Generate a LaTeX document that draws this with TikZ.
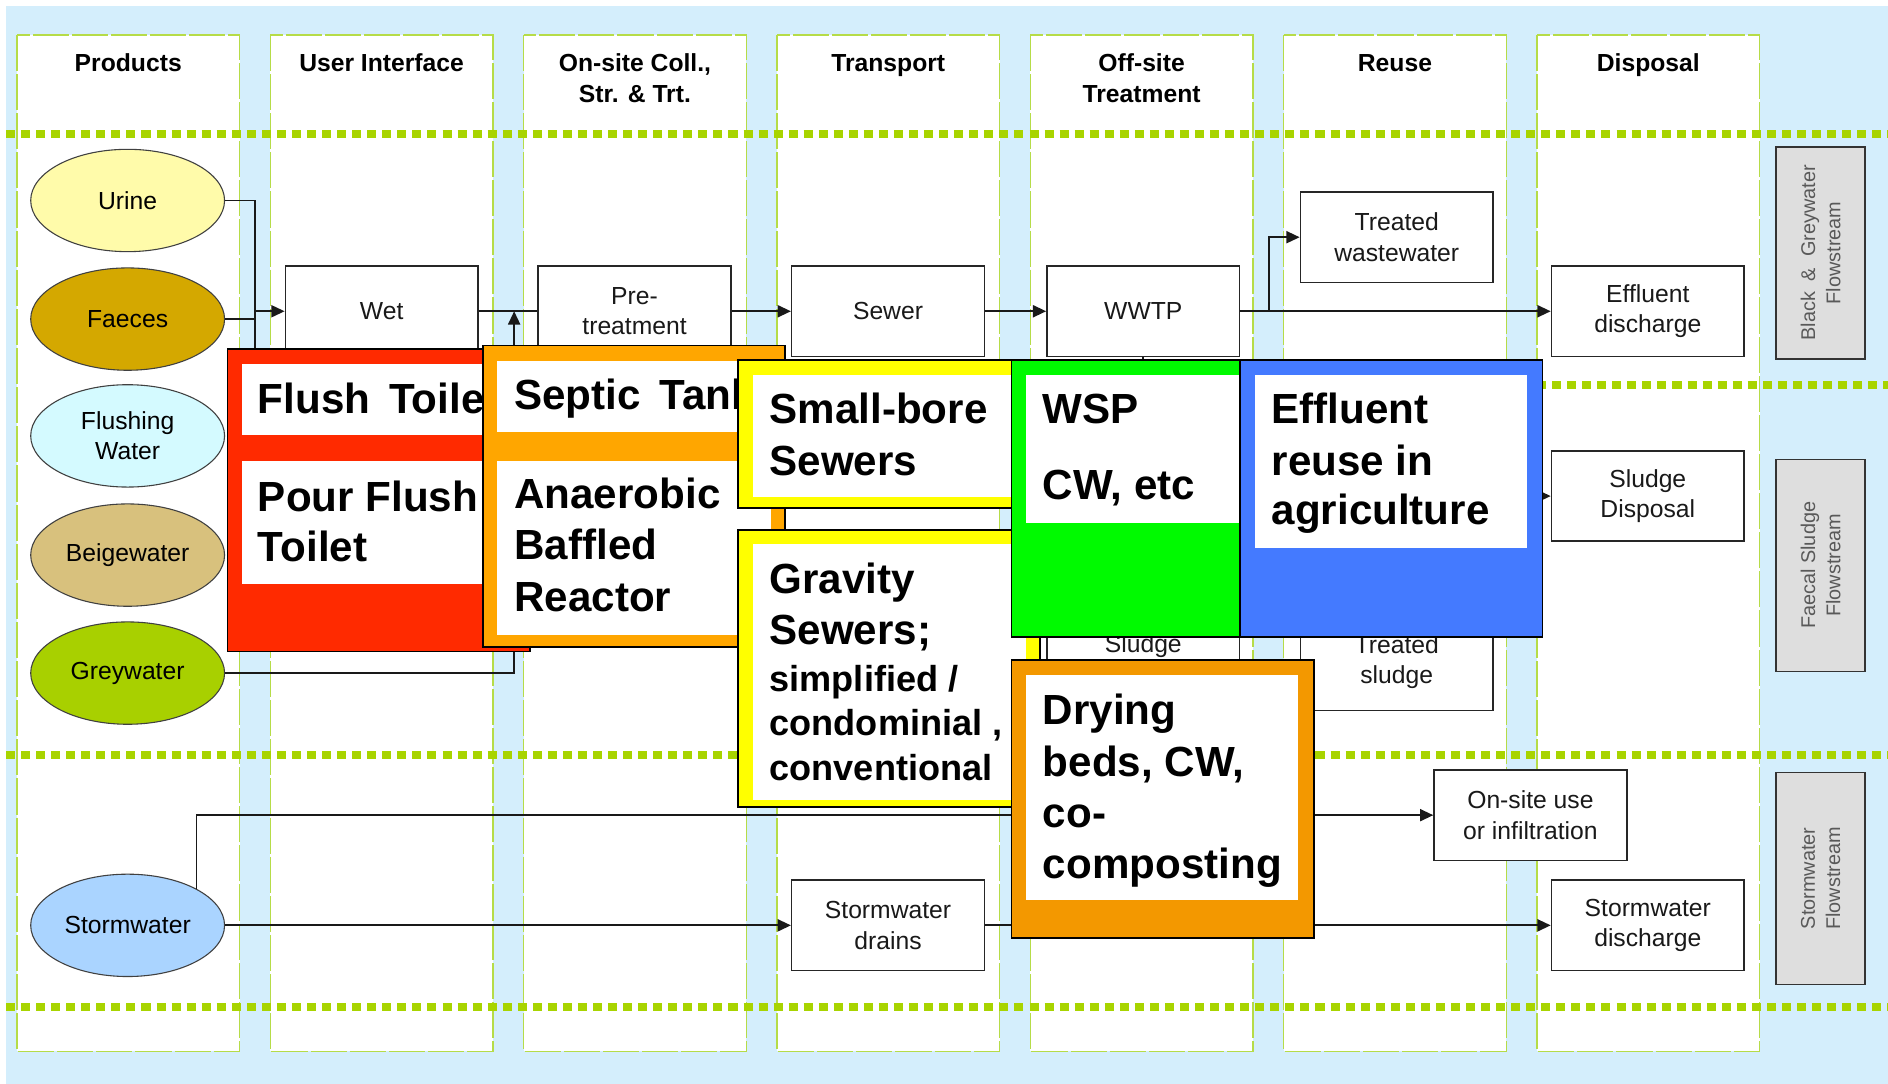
\documentclass[tikz,border=0pt]{standalone}
\usepackage{fontspec}
\setmainfont{Liberation Sans}
\usetikzlibrary{arrows.meta,shapes.geometric}
\definecolor{bgblue}{RGB}{212,238,252}
\definecolor{grn}{RGB}{168,212,0}
\definecolor{colgrn}{RGB}{182,220,72}
\definecolor{urine}{RGB}{255,251,170}
\definecolor{faeces}{RGB}{212,168,0}
\definecolor{flushw}{RGB}{212,250,255}
\definecolor{beige}{RGB}{216,193,125}
\definecolor{greyw}{RGB}{168,208,0}
\definecolor{stormw}{RGB}{170,212,255}
\definecolor{cred}{RGB}{255,42,0}
\definecolor{corange}{RGB}{255,166,0}
\definecolor{cyellow}{RGB}{255,255,0}
\definecolor{cgreen}{RGB}{0,250,0}
\definecolor{cblue}{RGB}{68,122,255}
\definecolor{corangeb}{RGB}{243,152,0}
\definecolor{lblgray}{RGB}{222,222,222}
\begin{document}
\begin{tikzpicture}[x=1pt,y=-1pt,
  colbox/.style={fill=white,draw=colgrn,line width=1.1pt,dash pattern=on 30pt off 2.5pt},
  dotln/.style={draw=grn,line width=6.5pt,dash pattern=on 7.5pt off 5pt},
  hdr/.style={font=\fontsize{20.5}{26}\selectfont\bfseries,anchor=base,inner sep=0},
  prod/.style={ellipse,draw=black!75,line width=0.9pt,minimum width=161pt,minimum height=85pt,inner sep=0,align=center,font=\fontsize{20.5}{25}\selectfont},
  pbox/.style={draw=black!85,line width=1.3pt,fill=white,minimum width=160pt,minimum height=75pt,inner sep=0,align=center,text=black!90,font=\fontsize{20.5}{25.5}\selectfont},
  flowlbl/.style={fill=lblgray,draw=black!80,line width=1.3pt,rotate=90,minimum width=176pt,minimum height=74pt,inner sep=0,align=center,text=black!65,font=\fontsize{16.5}{21}\selectfont},
  conn/.style={line width=1.5pt,draw=black!90},
  arr/.style={conn,-{Triangle[length=11pt,width=10pt]}},
  big/.style={anchor=base west,inner sep=0,font=\fontsize{35}{43}\selectfont\bfseries},
  mid/.style={anchor=base west,inner sep=0,font=\fontsize{30}{37}\selectfont\bfseries},
  panel/.style={draw=black,line width=1.5pt},
]
\useasboundingbox (0,0) rectangle (1568,900);
\fill[bgblue] (5,5) rectangle (1568,900);

% columns
\foreach \i in {0,...,6}{
  \path[colbox] ({14+210.4*\i},29) rectangle ++(185,844);
}
% headers
\node[hdr] (h1) at (106.5,59) {Products};
\node[hdr] (h2) at (316.9,59) {User Interface};
\node[hdr] (h3a) at (527.3,59) {On-site Coll.,};
\node[hdr] (h3b) at (527.3,85) {Str. \& Trt.};
\node[hdr] (h4) at (737.7,59) {Transport};
\node[hdr] (h5a) at (948.1,59) {Off-site};
\node[hdr] (h5b) at (948.1,85) {Treatment};
\node[hdr] (h6) at (1158.5,59) {Reuse};
\node[hdr] (h7) at (1368.9,59) {Disposal};

% dotted separators
\draw[dotln] (5,111) -- (1568,111);
\draw[dotln] (189,320) -- (1568,320);
\draw[dotln] (5,627) -- (1568,627);
\draw[dotln] (5,836.5) -- (1568,836.5);

% flowstream labels
\node[flowlbl] (fl1) at (1512,210) {Black~~\&~~Greywater\\Flowstream};
\node[flowlbl] (fl2) at (1512,469.5) {Faecal Sludge\\Flowstream};
\node[flowlbl] (fl3) at (1512,729.5) {Stormwater\\Flowstream};

% products
\node[prod,fill=urine] (urine) at (106,166.5) {Urine};
\node[prod,fill=faeces] (faeces) at (106,265) {Faeces};
\node[prod,fill=flushw] (flush) at (106,362) {Flushing\\Water};
\node[prod,fill=beige] (beige) at (106,461) {Beigewater};
\node[prod,fill=greyw] (grey) at (106,559) {Greywater};
\node[prod,fill=stormw] (storm) at (106,768.5) {Stormwater};

% boxes
\node[pbox] (wet) at (317,258.5) {Wet};
\node[pbox] (pre) at (527,258.5) {Pre-\\treatment};
\node[pbox] (sewer) at (737.5,258.5) {Sewer};
\node[pbox] (wwtp) at (949.5,258.5) {WWTP};
\node[pbox] (tww) at (1160,197) {Treated\\wastewater};
\node[pbox] (effl) at (1368.5,258.5) {Effluent\\discharge};
\node[pbox] (sdisp) at (1368.5,412) {Sludge\\Disposal};
\node[pbox] (sludge) at (949.5,510.5) {};
\node[anchor=base,inner sep=0,text=black!90,font=\fontsize{20.5}{25.5}\selectfont] (sludgetxt) at (949.5,541.5) {Sludge};
\node[pbox,minimum height=80pt] (tsl) at (1160,550) {Treated\\sludge};
\node[pbox] (onsite) at (1271,677) {On-site use\\or infiltration};
\node[pbox] (drains) at (737.5,768.5) {Stormwater\\drains};
\node[pbox] (sdis) at (1368.5,768.5) {Stormwater\\discharge};

% connectors
\coordinate (bus) at (212,300);
\coordinate (jn) at (427,258.5);
\coordinate (br) at (1054,258.5);
\draw[conn] (urine.east) -| (bus);
\draw[conn] (faeces.east) -- (faeces.east -| bus);
\draw[arr] (bus |- wet.west) -- (wet.west);
\draw[conn] (wet.east) -- (pre.west);
\draw[arr] (grey.east) -| (jn);
\draw[arr] (pre.east) -- (sewer.west);
\draw[arr] (sewer.east) -- (wwtp.west);
\draw[arr] (wwtp.east) -- (effl.west);
\draw[arr] (br) |- (tww.west);
\draw[conn] (wwtp.south) -- (sludge.north);
\draw[arr] (sludge.east) -- ++(230,0) |- (sdisp.west);
\draw[arr] (storm.east) -- (drains.west);
\draw[arr] (drains.east) -- (sdis.west);
\draw[arr] (storm.north east) |- (onsite.west);

% red panel
\draw[panel,fill=cred] (189,290) rectangle (440,541);
\fill[white] (201,302) rectangle (428,361);
\fill[white] (201,383) rectangle (428,485);
\node[big] (t1) at (214,343) {Flush\kern6pt\ Toilet};
\node[big] (t2) at (214,424.5) {Pour Flush};
\node[big] (t3) at (214,466.5) {Toilet};

% orange panel
\draw[panel,fill=corange] (401,287) rectangle (652,537);
\fill[white] (413,300) rectangle (640,358.5);
\fill[white] (413,383) rectangle (640,527);
\node[big] (t4) at (427,340.5) {Septic\kern6pt\ Tank};
\node[big] (t5) at (427,422) {Anaerobic};
\node[big] (t6) at (427,465) {Baffled};
\node[big] (t7) at (427,508) {Reactor};

% yellow panels
\draw[panel,fill=cyellow] (613,299) rectangle (864,422);
\fill[white] (625.5,311.5) rectangle (852,412.5);
\node[big] (t8) at (639,351.5) {Small-bore};
\node[big] (t9) at (639,394.5) {Sewers};

\draw[panel,fill=cyellow] (613,440) rectangle (864,670.5);
\fill[white] (625.5,452) rectangle (852,664.5);
\node[big] (t10) at (639,492.5) {Gravity};
\node[big] (t11) at (639,535.5) {Sewers;};
\node[mid] (t12) at (639,574) {simplified /};
\node[mid] (t13) at (639,611) {condominial ,};
\node[mid] (t14) at (639,648) {conventional};

% green panel
\draw[panel,fill=cgreen] (840,299) rectangle (1030,529);
\fill[white] (852,311.5) rectangle (1029,434);
\node[big] (t15) at (866,351.5) {WSP};
\node[big] (t16) at (866,415) {CW, etc};

% blue panel
\draw[panel,fill=cblue] (1030,299) rectangle (1281,529);
\fill[white] (1042,311.5) rectangle (1268,455);
\node[big] (t17) at (1056,351.5) {Effluent};
\node[big] (t18) at (1056,394.5) {reuse in};
\node[big] (t19) at (1056,436) {agriculture};

% orange panel 2
\draw[panel,fill=corangeb] (840,548) rectangle (1091,779);
\fill[white] (852,560.5) rectangle (1078,747.5);
\node[big] (t20) at (866,602) {Drying};
\node[big] (t21) at (866,644.5) {beds, CW,};
\node[big] (t22) at (866,687) {co-};
\node[big] (t23) at (866,729.5) {composting};
\end{tikzpicture}
\end{document}
